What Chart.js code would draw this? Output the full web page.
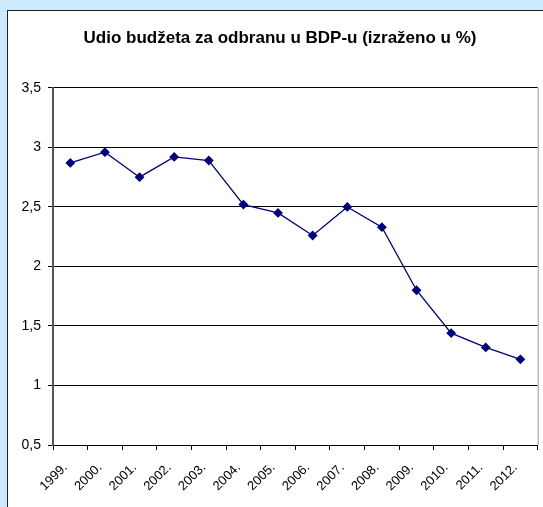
<!DOCTYPE html>
<html>
<head>
<meta charset="utf-8">
<script src="https://cdn.jsdelivr.net/npm/chart.js@4"></script>
<style>
  html, body { margin: 0; padding: 0; }
  body { width: 543px; height: 507px; background: #cde9fd; position: relative; overflow: hidden; }
  #panel { position: absolute; left: 7px; top: 10px; width: 560px; height: 520px; background: #fff; border: 1.5px solid #222; }
  #wrap { position: absolute; left: 0; top: 0; width: 543px; height: 507px; }
</style>
</head>
<body>
<div id="panel"></div>
<div id="wrap"><canvas id="myChart" width="543" height="507"></canvas></div>
<script>
// Data
const years = ['1999.', '2000.', '2001.', '2002.', '2003.', '2004.', '2005.',
               '2006.', '2007.', '2008.', '2009.', '2010.', '2011.', '2012.'];
const shareOfGdp = [2.87, 2.96, 2.75, 2.92, 2.89, 2.52, 2.45,
                    2.26, 2.50, 2.33, 1.80, 1.44, 1.32, 1.22];
const chartTitle = 'Udio budžeta za odbranu u BDP-u (izraženo u %)';

// right border of the plot area
const plotBorder = {
    id: 'plotBorder',
    afterDraw(chart) {
        const a = chart.chartArea;
        const c = chart.ctx;
        c.save();
        c.strokeStyle = '#999';
        c.lineWidth = 1;
        c.beginPath();
        c.moveTo(a.right + 0.5, a.top);
        c.lineTo(a.right + 0.5, a.bottom);
        c.stroke();
        c.restore();
    }
};

const ctx = document.getElementById('myChart').getContext('2d');

new Chart(ctx, {
    type: 'line',
    data: {
        labels: years,
        datasets: [{
            data: shareOfGdp,
            borderColor: '#000080',
            backgroundColor: '#000080',
            borderWidth: 1.3,
            pointStyle: 'rectRot',
            pointRadius: 4,
            pointHoverRadius: 4,
            tension: 0
        }]
    },
    options: {
        responsive: false,
        animation: false,
        layout: { padding: { left: 20, right: 3, top: 0, bottom: 0 } },
        plugins: {
            legend: { display: false },
            tooltip: { enabled: false },
            title: {
                display: true,
                text: chartTitle,
                color: '#000',
                font: { family: 'Arial, "Liberation Sans"', size: 17, weight: 'bold' },
                padding: { top: 28, bottom: 39.5 }
            }
        },
        scales: {
            x: {
                offset: true,
                grid: { offset: true, drawOnChartArea: false, color: '#000', tickLength: 5 },
                border: { color: '#000', width: 1 },
                ticks: {
                    color: '#000',
                    font: { family: 'Arial, "Liberation Sans"', size: 13 },
                    minRotation: 45, maxRotation: 45,
                    padding: 10,
                    labelOffset: -5
                },
                afterFit(scale) { scale.height = 62; }
            },
            y: {
                min: 0.5,
                max: 3.5,
                ticks: {
                    stepSize: 0.5,
                    color: '#000',
                    padding: 7,
                    font: { family: 'Arial, "Liberation Sans"', size: 14 },
                    callback: v => String(v).replace('.', ',')
                },
                grid: { color: '#000', tickLength: 5 },
                border: { color: '#555', width: 2 },
                afterFit(scale) { scale.width = 33; }
            }
        }
    },
    plugins: [plotBorder]
});
</script>
</body>
</html>
